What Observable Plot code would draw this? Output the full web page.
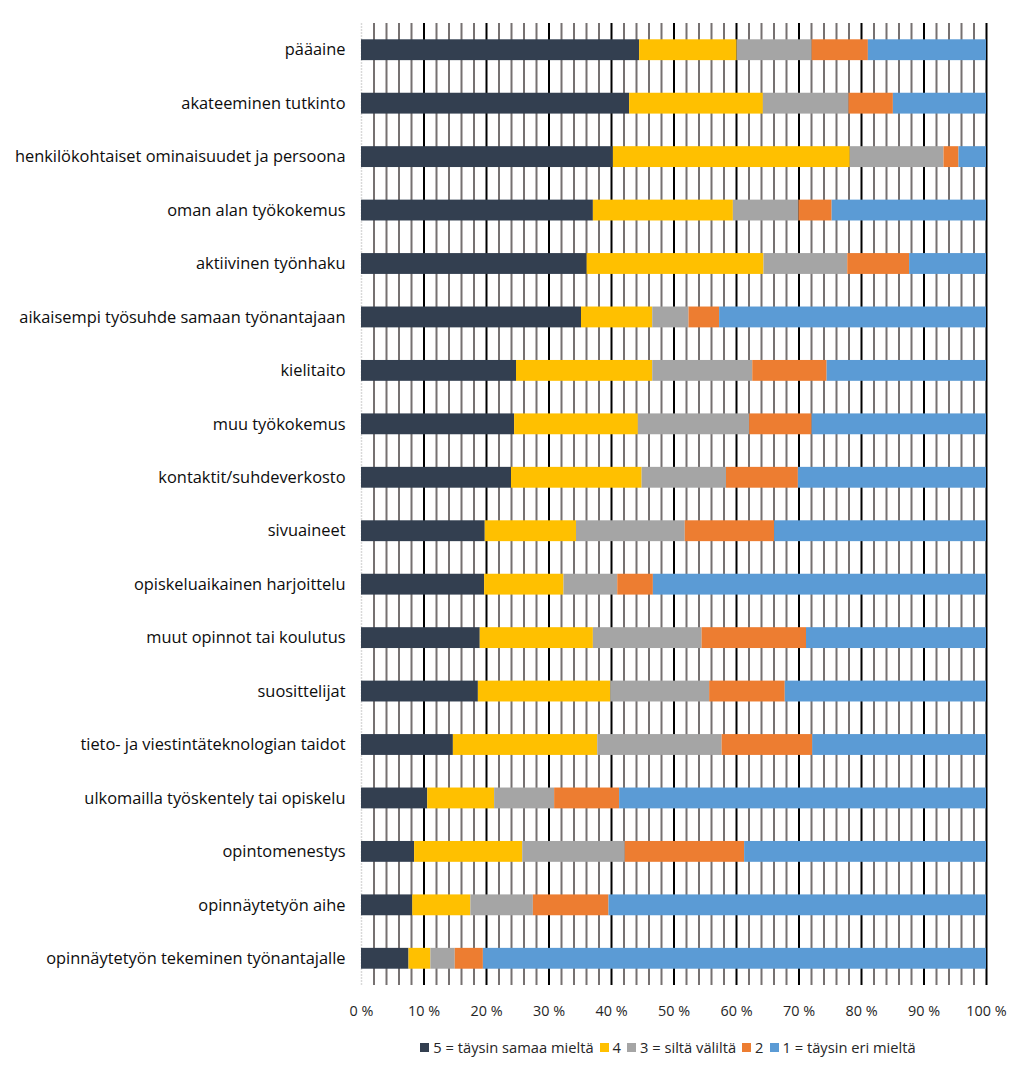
<!DOCTYPE html>
<html>
<head>
<meta charset="utf-8">
<script src="https://cdn.jsdelivr.net/npm/d3@7"></script>
<script src="https://cdn.jsdelivr.net/npm/@observablehq/plot@0.6"></script>
<style>
  body { margin: 0; background: #fff; font-family: "Open Sans", Lato, sans-serif; }
  #chart { width: 1032px; }
  .legend { display: flex; justify-content: center; align-items: center; gap: 6px;
    font-size: 14.7px; color: #262626; margin-top: 12px; padding-left: 304px; }
  .legend .item { display: flex; align-items: center; gap: 4px; white-space: nowrap; }
  .legend .sw { width: 9px; height: 9px; display: inline-block; }
</style>
</head>
<body>
<div id="chart"></div>
<script>
const categories = [
  "pääaine",
  "akateeminen tutkinto",
  "henkilökohtaiset ominaisuudet ja persoona",
  "oman alan työkokemus",
  "aktiivinen työnhaku",
  "aikaisempi työsuhde samaan työnantajaan",
  "kielitaito",
  "muu työkokemus",
  "kontaktit/suhdeverkosto",
  "sivuaineet",
  "opiskeluaikainen harjoittelu",
  "muut opinnot tai koulutus",
  "suosittelijat",
  "tieto- ja viestintäteknologian taidot",
  "ulkomailla työskentely tai opiskelu",
  "opintomenestys",
  "opinnäytetyön aihe",
  "opinnäytetyön tekeminen työnantajalle"
];
const seriesNames = ["5 = täysin samaa mieltä", "4", "3 = siltä väliltä", "2", "1 = täysin eri mieltä"];
const seriesColors = ["#333F50", "#FFC000", "#A5A5A5", "#ED7D31", "#5B9BD5"];

const s5 = [44.5, 42.9, 40.3, 37.1, 36.1, 35.2, 24.8, 24.5, 24.0, 19.8, 19.7, 19.0, 18.7, 14.7, 10.6, 8.5, 8.2, 7.6];
const s4 = [15.6, 21.4, 37.9, 22.4, 28.3, 11.4, 21.8, 19.8, 20.9, 14.6, 12.7, 18.1, 21.2, 23.1, 10.7, 17.3, 9.3, 3.5];
const s3 = [12.0, 13.7, 15.0, 10.5, 13.4, 5.8, 16.0, 17.8, 13.5, 17.4, 8.6, 17.4, 15.8, 19.9, 9.6, 16.4, 10.0, 3.9];
const s2 = [9.0, 7.1, 2.4, 5.3, 9.9, 4.9, 11.9, 10.0, 11.5, 14.3, 5.7, 16.7, 12.1, 14.5, 10.4, 19.1, 12.1, 4.5];
const s1 = [18.9, 14.9, 4.4, 24.7, 12.3, 42.7, 25.5, 27.9, 30.1, 33.9, 53.3, 28.8, 32.2, 27.8, 58.7, 38.7, 60.4, 80.5];

const xTicks = [0, 10, 20, 30, 40, 50, 60, 70, 80, 90, 100];
const minorGrid = d3.range(2, 100, 2).filter(v => v % 10 !== 0);
const majorGrid = xTicks.filter(v => v > 0);

const seriesValues = [s5, s4, s3, s2, s1];
const data = [];
categories.forEach((c, i) => {
  seriesNames.forEach((s, j) => data.push({category: c, series: s, value: seriesValues[j][i]}));
});

const chart = Plot.plot({
  width: 1032,
  height: 1025,
  marginLeft: 361,
  marginRight: 46,
  marginTop: 23,
  marginBottom: 40,
  style: {fontFamily: "'Open Sans', Lato, sans-serif", color: "#262626", background: "#fff"},
  x: {domain: [0, 100]},
  y: {domain: categories, paddingInner: 0.61, paddingOuter: 0.305, round: false},
  color: {domain: seriesNames, range: seriesColors},
  marks: [
    Plot.ruleX(minorGrid, {stroke: "#767171", strokeWidth: 2}),
    Plot.ruleX(majorGrid, {stroke: "#000000", strokeWidth: 2}),
    Plot.ruleX([0], {stroke: "#D9D9D9", strokeWidth: 1.5, strokeDasharray: "2,1"}),
    Plot.barX(data, Plot.stackX({x: "value", y: "category", fill: "series", order: seriesNames})),
    Plot.axisX({ticks: xTicks, tickFormat: d => d + " %", tickSize: 0, tickPadding: 20, fontSize: 14.4, label: null}),
    Plot.axisY({tickSize: 0, tickPadding: 16, fontSize: 16.4, fill: "#0d0d0d", label: null})
  ]
});
document.getElementById("chart").appendChild(chart);

const legend = document.createElement("div");
legend.className = "legend";
seriesNames.forEach((s, j) => {
  const it = document.createElement("span");
  it.className = "item";
  const sw = document.createElement("span");
  sw.className = "sw";
  sw.style.background = seriesColors[j];
  it.appendChild(sw);
  it.appendChild(document.createTextNode(s));
  legend.appendChild(it);
});
document.getElementById("chart").appendChild(legend);
</script>
</body>
</html>
